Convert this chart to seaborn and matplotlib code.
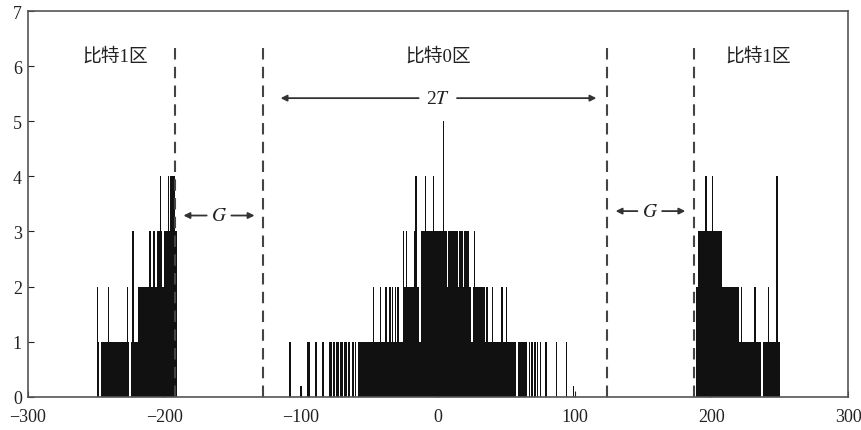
import numpy as np
import pandas as pd
import seaborn as sns
import matplotlib.pyplot as plt

# counts per integer bin
left_start = -249
left_counts = [2, 1, 0, 1, 1, 1, 1, 1, 2,
               1, 1, 1, 1, 1, 1, 1, 1, 1, 1, 1, 1, 1,
               2, 1, 0, 1, 3, 1, 1, 1,
               2, 2, 2, 2, 2, 2, 2, 2,
               3, 3, 2, 3, 3, 2, 3, 3, 4, 3, 2, 3, 3, 3, 4, 3, 4, 4, 4, 3, 3]

center_start = -108
center_counts = [1, 0, 0, 0, 0, 0, 0, 0, 0.2, 0,
                 0, 0, 0, 1, 1, 0, 0, 0, 0, 1,
                 0, 0, 0, 0, 1, 0, 0, 0, 0, 1,
                 1, 0, 1, 0, 1, 1, 0, 1, 1, 0,
                 1, 1, 0, 1, 0, 0, 1, 0, 1, 0,
                 1, 1, 1, 1, 1, 1, 1, 1, 1, 1,
                 1, 2, 1, 1, 1, 1, 2, 1, 1, 1,
                 2, 1, 1, 2, 1, 2, 1, 2, 1, 2,
                 1, 1, 1, 3, 2, 3, 2, 2, 2, 2,
                 2, 3, 4, 2, 2, 1, 3, 3, 3, 4,
                 3, 3, 3, 3, 3, 4, 3, 3, 3, 3,
                 3, 3, 5, 3, 3, 2, 3, 3, 3, 3,
                 3, 3, 3, 2, 3, 3, 3, 2, 3, 3,
                 3, 2, 2, 1, 2, 3, 2, 2, 2, 2,
                 2, 2, 2, 1, 2, 1, 1, 1, 2, 1,
                 1, 1, 1, 1, 1, 2, 1, 1, 2, 1,
                 1, 1, 1, 1, 1, 1, 0, 1, 1, 1,
                 1, 1, 1, 1, 0, 1, 0, 1, 0, 1,
                 0, 1, 0, 1, 0, 0, 0, 1, 0, 0,
                 0, 0, 0, 0, 0, 1, 0, 0, 0, 0,
                 0, 0, 1, 0, 0, 0, 0, 0.2]

right_start = 189
right_counts = [2, 2,
                3, 3, 3, 3, 3, 4, 3, 3, 3, 3, 4, 3, 3, 3, 3, 3, 3,
                2, 2, 2, 2, 2, 2, 2, 2, 2, 2, 2, 2, 2,
                1, 2, 1, 1, 1, 1, 1, 1, 1, 1, 1, 2, 1, 1, 1, 1, 0,
                1, 1, 1, 1, 2, 1, 1, 1, 1, 1, 4, 1, 1]

boundaries = [-192, -128, 124, 187]
zone_labels = ["比特1区", "比特0区", "比特1区"]
zone_label_x = [-236, 0, 234]

frames = []
for start, counts in [(left_start, left_counts), (center_start, center_counts),
                      (right_start, right_counts)]:
    frames.append(pd.DataFrame({"x": start + np.arange(len(counts)), "n": counts}))
df = pd.concat(frames, ignore_index=True)

sns.set_style("ticks")
plt.rcParams["font.family"] = ["Liberation Serif", "Noto Sans CJK SC"]
plt.rcParams["mathtext.fontset"] = "stix"
plt.rcParams["axes.unicode_minus"] = True

fig = plt.figure(figsize=(8.61, 4.31), dpi=100)
ax = fig.add_axes([0.032, 0.077, 0.953, 0.895])

sns.histplot(data=df, x="x", weights="n", discrete=True, color="#111111",
             alpha=1, linewidth=0, ax=ax)

for b in boundaries:
    ax.plot([b, b], [0, 6.45], color="#444444", lw=1.5, ls=(0, (5.5, 3.5)))

for lx, lab in zip(zone_label_x, zone_labels):
    ax.text(lx, 6.18, lab, ha="center", va="center", fontsize=13.5, color="#222222")

arrow = dict(arrowstyle="-|>", color="#333333", lw=1.3, mutation_scale=9)
ax.text(0, 5.42, "2$\\mathit{T}$", ha="center", va="center", fontsize=14, color="#222222")
ax.annotate("", xy=(-117, 5.42), xytext=(-12, 5.42), arrowprops=arrow)
ax.annotate("", xy=(118, 5.42), xytext=(12, 5.42), arrowprops=arrow)

for gx, gy, a, b in [(-160, 3.29, -188, -132), (155, 3.37, 128, 183)]:
    ax.text(gx, gy, "$\\mathit{G}$", ha="center", va="center", fontsize=14, color="#222222")
    ax.annotate("", xy=(a, gy), xytext=(gx - 7, gy), arrowprops=arrow)
    ax.annotate("", xy=(b, gy), xytext=(gx + 7, gy), arrowprops=arrow)

ax.set_xlim(-300, 300)
ax.set_ylim(0, 7)
ax.set_xticks(range(-300, 301, 100))
ax.set_yticks(range(0, 8))
ax.tick_params(direction="in", length=4, labelsize=13, colors="#222222")
ax.tick_params(axis="x", pad=8)
ax.tick_params(axis="y", pad=4)
ax.set_xlabel("")
ax.set_ylabel("")
for s in ax.spines.values():
    s.set_color("#555555")
    s.set_linewidth(1.2)

fig.savefig("out.png", dpi=100)
